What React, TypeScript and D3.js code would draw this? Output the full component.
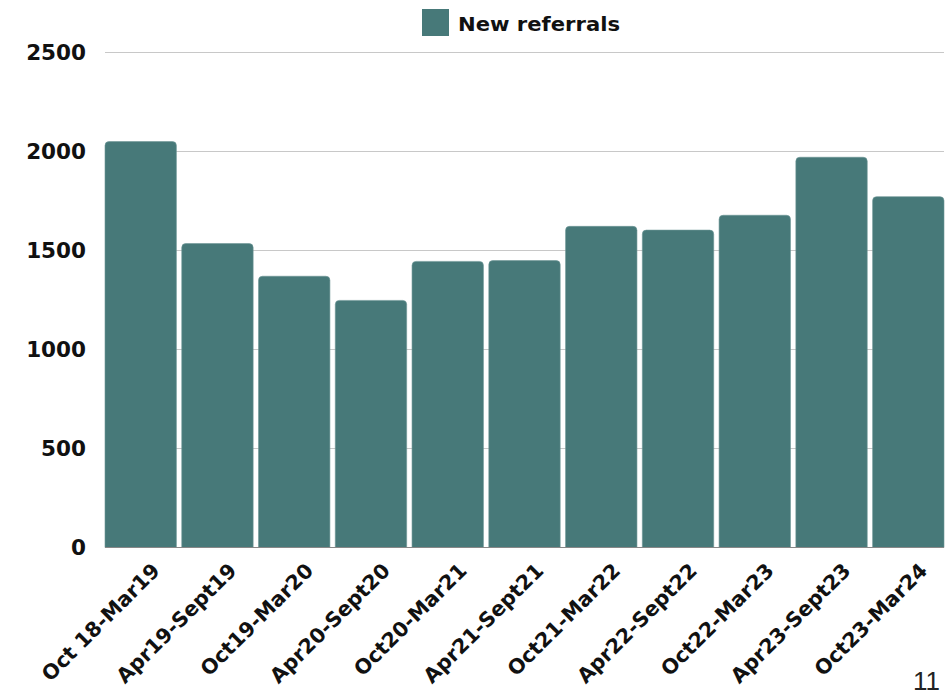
import React from "react";
import * as d3 from "d3";

const categories = [
  "Oct 18-Mar19",
  "Apr19-Sept19",
  "Oct19-Mar20",
  "Apr20-Sept20",
  "Oct20-Mar21",
  "Apr21-Sept21",
  "Oct21-Mar22",
  "Apr22-Sept22",
  "Oct22-Mar23",
  "Apr23-Sept23",
  "Oct23-Mar24",
];
const newReferrals = [2050, 1535, 1370, 1248, 1445, 1449, 1622, 1603, 1678, 1971, 1772];
const yTicks = [0, 500, 1000, 1500, 2000, 2500];
const seriesName = "New referrals";
const pageNumber = "11";

const W = 949;
const H = 698;
const margin = { top: 52.5, right: 5, bottom: 150.5, left: 105 };
const BAR_COLOR = "#477979";
const FONT = "'DejaVu Sans', Lato, sans-serif";

function roundedTopBar(x: number, y: number, w: number, h: number, r: number) {
  const rr = Math.min(r, h, w / 2);
  return `M${x},${y + h}V${y + rr}Q${x},${y} ${x + rr},${y}H${x + w - rr}Q${x + w},${y} ${x + w},${y + rr}V${y + h}Z`;
}

export default function App() {
  const innerW = W - margin.left - margin.right;
  const innerH = H - margin.top - margin.bottom;
  const x = d3.scaleBand<string>().domain(categories).range([0, innerW]).paddingInner(0.07).paddingOuter(0);
  const y = d3.scaleLinear().domain([0, 2500]).range([innerH, 0]);

  return (
    <svg
      width={W}
      height={H}
      style={{ position: "absolute", left: 0, top: 0, background: "#fff" }}
      fontFamily={FONT}
    >
      {/* legend */}
      <rect x={422} y={9} width={27} height={27} fill={BAR_COLOR} />
      <text x={458} y={31} fontSize={19.5} fontWeight={700} fill="#111" textLength={162} lengthAdjust="spacingAndGlyphs">
        {seriesName}
      </text>

      <g transform={`translate(${margin.left},${margin.top})`}>
        {/* gridlines */}
        {yTicks.map((t) => (
          <line key={t} x1={0} x2={innerW} y1={y(t)} y2={y(t)} stroke="#c8c8c8" strokeWidth={1} />
        ))}
        {/* y tick labels */}
        {yTicks.map((t) => (
          <text
            key={"l" + t}
            x={-19}
            y={y(t)}
            dy="0.36em"
            textAnchor="end"
            fontSize={21.5}
            fontWeight={700}
            fill="#111"
          >
            {t}
          </text>
        ))}
        {/* bars */}
        {categories.map((c, i) => (
          <path
            key={c}
            d={roundedTopBar(x(c)!, y(newReferrals[i]), x.bandwidth(), y(0) - y(newReferrals[i]), 4)}
            fill={BAR_COLOR}
            stroke="#6c9696"
            strokeWidth={0.6}
          />
        ))}
        <line x1={0} x2={innerW} y1={y(0)} y2={y(0)} stroke="#888" strokeWidth={1} />
        {/* category labels */}
        {categories.map((c) => {
          const cx = x(c)! + x.bandwidth() / 2 + 10;
          const cy = y(0) + 14;
          return (
            <text
              key={"c" + c}
              transform={`translate(${cx},${cy}) rotate(-45)`}
              textAnchor="end"
              dy="0.71em"
              fontSize={20.5}
              fontWeight={700}
              fill="#111"
            >
              {c}
            </text>
          );
        })}
      </g>

      <text x={940} y={690} textAnchor="end" fontSize={26} fontFamily="'Liberation Sans', Arial, sans-serif" fill="#222">
        {pageNumber}
      </text>
    </svg>
  );
}
